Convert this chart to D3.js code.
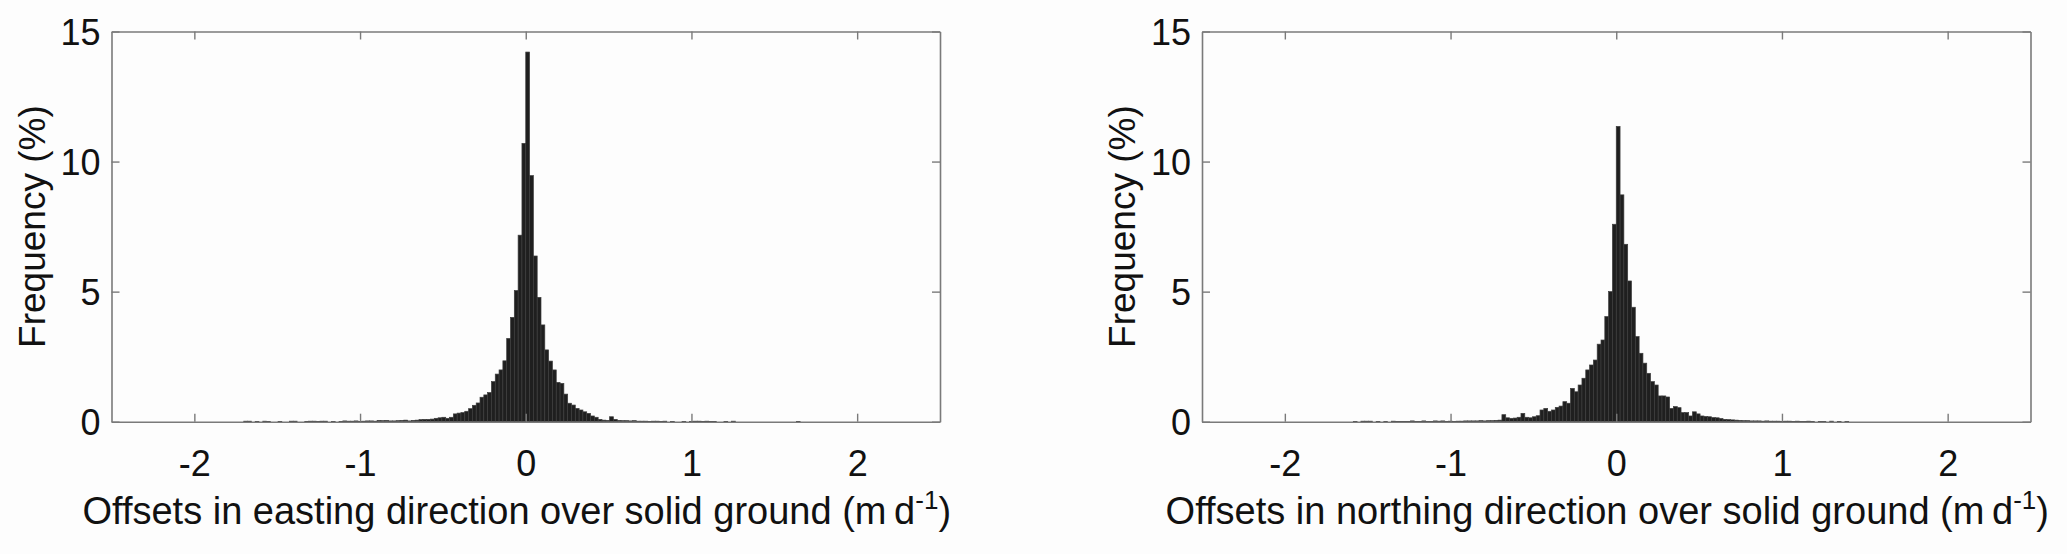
<!DOCTYPE html>
<html>
<head>
<meta charset="utf-8">
<script src="https://cdn.jsdelivr.net/npm/d3@7"></script>
<style>
  html, body { margin: 0; padding: 0; background: #fdfdfd; }
  svg { display: block; font-family: "Liberation Sans", Arial, sans-serif; }
</style>
</head>
<body>
<svg id="chart" width="2067" height="554"></svg>
<script>
// histogram bins: bin k covers [k*binWidth, (k+1)*binWidth]
const binWidth = 0.023;

// easting offsets, frequency (%) from bin k = -75 upward
const eastingStart = -75;
const eastingFreq = [
  0, 0.02, 0.02, 0, 0.01, 0, 0.02, 0.01, 0, 0,
  0.01, 0, 0, 0.02, 0.02, 0, 0, 0.01, 0.02, 0.02,
  0.01, 0.02, 0.02, 0, 0.01, 0, 0.01, 0.03, 0.02, 0.02,
  0.03, 0.01, 0.02, 0.03, 0.03, 0.02, 0.05, 0.04, 0.05, 0.03,
  0.03, 0.04, 0.05, 0.06, 0.03, 0.05, 0.06, 0.08, 0.09, 0.09,
  0.10, 0.13, 0.15, 0.17, 0.13, 0.17, 0.30, 0.33, 0.35, 0.40,
  0.50, 0.63, 0.72, 0.94, 1.03, 1.12, 1.54, 1.83, 1.99, 2.34,
  3.20, 4.01, 5.04, 7.17, 10.70,
  14.21, 9.46, 6.37, 4.78, 3.72, 2.76, 2.33, 1.99, 1.51, 1.47,
  1.06, 0.71, 0.64, 0.51, 0.45, 0.38, 0.32, 0.22, 0.17, 0.09,
  0.06, 0.05, 0.19, 0.09, 0.05, 0.04, 0.04, 0.03, 0.04, 0.02,
  0.02, 0.02, 0.01, 0.02, 0.02, 0.01, 0.02, 0, 0.01, 0,
  0, 0.01, 0, 0.01, 0.02, 0.02, 0.01, 0.02, 0.01, 0.01,
  0, 0, 0.01, 0, 0.02, 0, 0, 0, 0, 0,
  0, 0, 0, 0, 0, 0, 0, 0, 0, 0,
  0, 0.01
];

// northing offsets, frequency (%) from bin k = -70 upward
const northingStart = -70;
const northingFreq = [
  0, 0.01, 0, 0.02, 0.02, 0.02, 0, 0.01, 0, 0.01,
  0, 0.02, 0.01, 0.01, 0.01, 0.01, 0.03, 0.01, 0.01, 0.03,
  0.01, 0.01, 0.03, 0.02, 0.03, 0.01, 0.02, 0.01, 0.02, 0.02,
  0.03, 0.03, 0.03, 0.03, 0.04, 0.03, 0.04, 0.04, 0.05, 0.06,
  0.27, 0.15, 0.13, 0.14, 0.17, 0.32, 0.17, 0.15, 0.19, 0.23,
  0.45, 0.51, 0.40, 0.45, 0.55, 0.60, 0.77, 0.71, 1.28, 1.15,
  1.41, 1.67, 1.99, 2.18, 2.37, 2.98, 3.14, 4.04, 5.00, 7.59,
  11.35, 8.72, 6.82, 5.41, 4.40, 3.27, 2.63, 2.25, 1.86, 1.54,
  1.41, 0.99, 0.99, 0.95, 0.51, 0.58, 0.54, 0.35, 0.35, 0.22,
  0.38, 0.30, 0.22, 0.20, 0.19, 0.16, 0.15, 0.12, 0.09, 0.08,
  0.07, 0.06, 0.05, 0.04, 0.04, 0.03, 0.03, 0.03, 0.02, 0.03,
  0.02, 0.02, 0.02, 0.01, 0.02, 0.02, 0.01, 0.02, 0.01, 0.01,
  0.02, 0.01, 0, 0.01, 0.01, 0, 0.02, 0, 0.01, 0,
  0.01
];

const xDomain = [-2.5, 2.5];
const yDomain = [0, 15];
const xTicks = [-2, -1, 0, 1, 2];
const yTicks = [0, 5, 10, 15];

const svg = d3.select("#chart");

const plotTop = 31.5, plotBottom = 421.7;

function drawPanel(left, right, start, freq, direction) {
    const x = d3.scaleLinear().domain(xDomain).range([left, right]);
    const y = d3.scaleLinear().domain(yDomain).range([plotBottom, plotTop]);
    const g = svg.append("g");

    const bins = freq.map((v, i) => ({
        x0: (start + i) * binWidth,
        x1: (start + i + 1) * binWidth,
        v: v
    })).filter(d => d.v > 0);

    // bars
    g.append("g")
        .selectAll("rect")
        .data(bins)
        .enter().append("rect")
        .attr("x", d => x(d.x0))
        .attr("width", d => x(d.x1) - x(d.x0))
        .attr("y", d => y(d.v))
        .attr("height", d => y(0) - y(d.v))
        .style("fill", "#1f1f1f")
        .style("stroke", "#3d3d3d")
        .style("stroke-width", 0.7);

    // axes, ticks inward like matlab
    const tickLen = 8;
    const plain = d => String(d);  // plain hyphen, no decimals
    const axBottom = g.append("g")
        .attr("transform", `translate(0,${plotBottom})`)
        .call(d3.axisBottom(x).tickValues(xTicks).tickFormat(plain).tickSizeInner(-tickLen).tickSizeOuter(0).tickPadding(29));
    const axTop = g.append("g")
        .attr("transform", `translate(0,${plotTop})`)
        .call(d3.axisTop(x).tickValues(xTicks).tickSizeInner(-tickLen).tickSizeOuter(0).tickFormat(""));
    const axLeft = g.append("g")
        .attr("transform", `translate(${left},0)`)
        .call(d3.axisLeft(y).tickValues(yTicks).tickFormat(plain).tickSizeInner(-tickLen).tickSizeOuter(0).tickPadding(11));
    const axRight = g.append("g")
        .attr("transform", `translate(${right},0)`)
        .call(d3.axisRight(y).tickValues(yTicks).tickSizeInner(-tickLen).tickSizeOuter(0).tickFormat(""));

    [axBottom, axTop, axLeft, axRight].forEach(a => {
        a.select(".domain").attr("stroke", "#7a7a7a").attr("stroke-width", 1.6);
        a.selectAll(".tick line").attr("stroke", "#7a7a7a").attr("stroke-width", 1.4);
        a.selectAll(".tick text")
            .attr("fill", "#111")
            .style("font-size", "36px")
            .style("font-family", "'Liberation Sans', Arial, sans-serif");
    });
    axBottom.selectAll(".tick text").attr("dy", "0.71em");
    axLeft.selectAll(".tick text").attr("dy", "0.36em");

    // x label with superscript
    const label = g.append("text")
        .attr("x", (left + right) / 2 - 9)
        .attr("y", 524)
        .attr("text-anchor", "middle")
        .style("font-size", "38px")
        .attr("fill", "#111");
    label.append("tspan").text(`Offsets in ${direction} direction over solid ground (m\u2009d`);
    label.append("tspan").attr("dy", -15).style("font-size", "26px").text("-1");
    label.append("tspan").attr("dy", 15).text(")");

    // y label
    g.append("text")
        .attr("transform", `translate(${left - 67},${(plotTop + plotBottom) / 2}) rotate(-90)`)
        .attr("text-anchor", "middle")
        .style("font-size", "37px")
        .attr("fill", "#111")
        .text("Frequency (%)");
}

drawPanel(111.5, 940, eastingStart, eastingFreq, "easting");
drawPanel(1202, 2030.5, northingStart, northingFreq, "northing");
</script>
</body>
</html>
